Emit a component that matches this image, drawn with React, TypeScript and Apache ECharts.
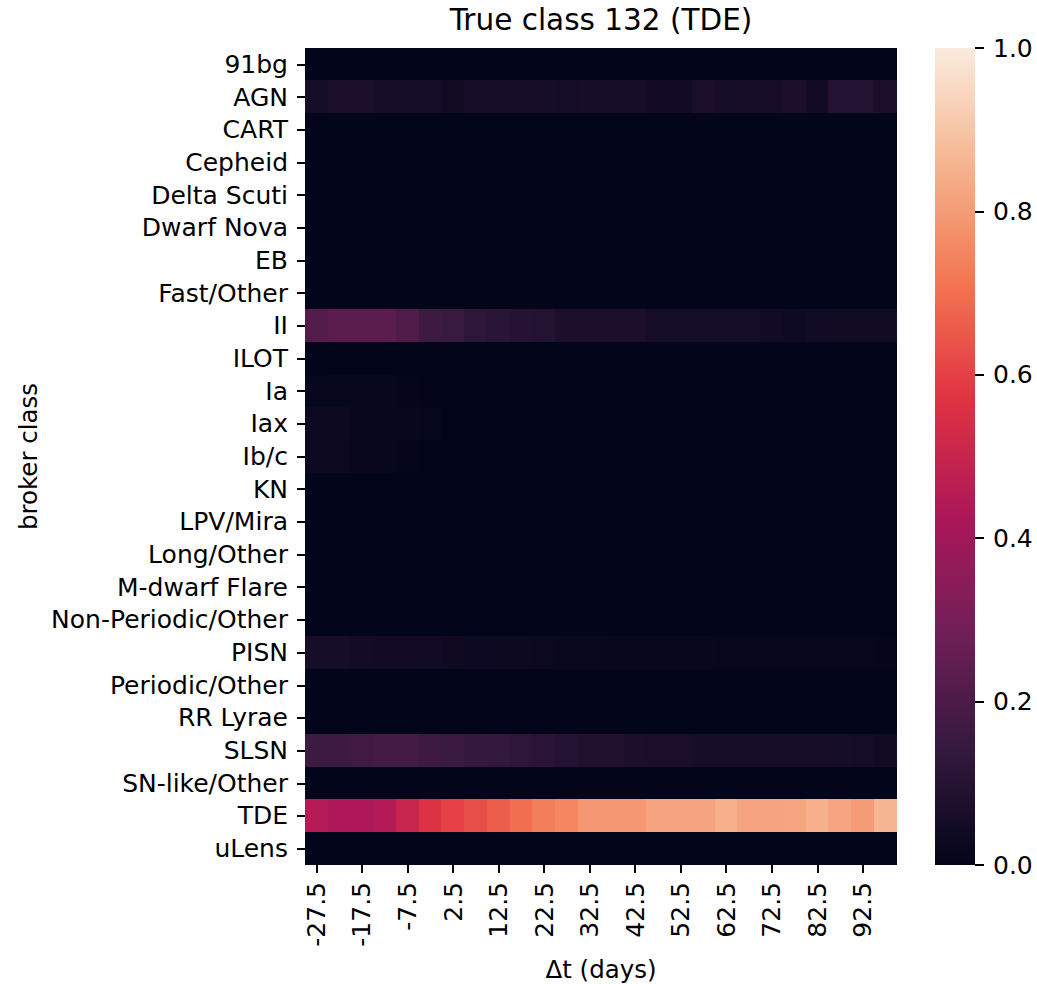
import React, { useEffect, useRef } from "react";
import * as echarts from "echarts";

const classes = [
  "91bg", "AGN", "CART", "Cepheid", "Delta Scuti", "Dwarf Nova", "EB", "Fast/Other",
  "II", "ILOT", "Ia", "Iax", "Ib/c", "KN", "LPV/Mira", "Long/Other", "M-dwarf Flare",
  "Non-Periodic/Other", "PISN", "Periodic/Other", "RR Lyrae", "SLSN", "SN-like/Other",
  "TDE", "uLens",
];

const dtLabels = [
  "-27.5", "-22.5", "-17.5", "-12.5", "-7.5", "-2.5", "2.5", "7.5", "12.5", "17.5",
  "22.5", "27.5", "32.5", "37.5", "42.5", "47.5", "52.5", "57.5", "62.5", "67.5",
  "72.5", "77.5", "82.5", "87.5", "92.5", "97.5",
];

const colorbarTicks = [0, 0.2, 0.4, 0.6, 0.8, 1.0];

const row91bg = [0, 0, 0, 0, 0, 0, 0, 0, 0, 0, 0, 0, 0, 0, 0, 0, 0, 0, 0, 0, 0, 0, 0, 0, 0, 0];
const rowAGN = [0.052, 0.068, 0.07, 0.058, 0.055, 0.055, 0.04, 0.057, 0.06, 0.06, 0.055, 0.052, 0.058, 0.058, 0.06, 0.046, 0.046, 0.065, 0.052, 0.057, 0.057, 0.068, 0.046, 0.095, 0.095, 0.065];
const rowCART = [0, 0, 0, 0, 0, 0, 0, 0, 0, 0, 0, 0, 0, 0, 0, 0, 0, 0, 0, 0, 0, 0, 0, 0, 0, 0];
const rowCepheid = [0, 0, 0, 0, 0, 0, 0, 0, 0, 0, 0, 0, 0, 0, 0, 0, 0, 0, 0, 0, 0, 0, 0, 0, 0, 0];
const rowDeltaScuti = [0, 0, 0, 0, 0, 0, 0, 0, 0, 0, 0, 0, 0, 0, 0, 0, 0, 0, 0, 0, 0, 0, 0, 0, 0, 0];
const rowDwarfNova = [0, 0, 0, 0, 0, 0, 0, 0, 0, 0, 0, 0, 0, 0, 0, 0, 0, 0, 0, 0, 0, 0, 0, 0, 0, 0];
const rowEB = [0, 0, 0, 0, 0, 0, 0, 0, 0, 0, 0, 0, 0, 0, 0, 0, 0, 0, 0, 0, 0, 0, 0, 0, 0, 0];
const rowFastOther = [0, 0, 0, 0, 0, 0, 0, 0, 0, 0, 0, 0, 0, 0, 0, 0, 0, 0, 0, 0, 0, 0, 0, 0, 0, 0];
const rowII = [0.215, 0.235, 0.235, 0.235, 0.205, 0.16, 0.15, 0.12, 0.105, 0.1, 0.09, 0.07, 0.07, 0.068, 0.068, 0.05, 0.05, 0.05, 0.05, 0.05, 0.046, 0.035, 0.042, 0.04, 0.04, 0.04];
const rowILOT = [0, 0, 0, 0, 0, 0, 0, 0, 0, 0, 0, 0, 0, 0, 0, 0, 0, 0, 0, 0, 0, 0, 0, 0, 0, 0];
const rowIa = [0.008, 0.012, 0.012, 0.012, 0.006, 0.003, 0, 0, 0, 0, 0, 0, 0, 0, 0, 0, 0, 0, 0, 0, 0, 0, 0, 0, 0, 0];
const rowIax = [0.027, 0.027, 0.015, 0.015, 0.015, 0.008, 0, 0, 0, 0, 0, 0, 0, 0, 0, 0, 0, 0, 0, 0, 0, 0, 0, 0, 0, 0];
const rowIbc = [0.022, 0.022, 0.015, 0.015, 0.005, 0, 0, 0, 0, 0, 0, 0, 0, 0, 0, 0, 0, 0, 0, 0, 0, 0, 0, 0, 0, 0];
const rowKN = [0, 0, 0, 0, 0, 0, 0, 0, 0, 0, 0, 0, 0, 0, 0, 0, 0, 0, 0, 0, 0, 0, 0, 0, 0, 0];
const rowLPVMira = [0, 0, 0, 0, 0, 0, 0, 0, 0, 0, 0, 0, 0, 0, 0, 0, 0, 0, 0, 0, 0, 0, 0, 0, 0, 0];
const rowLongOther = [0, 0, 0, 0, 0, 0, 0, 0, 0, 0, 0, 0, 0, 0, 0, 0, 0, 0, 0, 0, 0, 0, 0, 0, 0, 0];
const rowMdwarf = [0, 0, 0, 0, 0, 0, 0, 0, 0, 0, 0, 0, 0, 0, 0, 0, 0, 0, 0, 0, 0, 0, 0, 0, 0, 0];
const rowNonPeriodic = [0, 0, 0, 0, 0, 0, 0, 0, 0, 0, 0, 0, 0, 0, 0, 0, 0, 0, 0, 0, 0, 0, 0, 0, 0, 0];
const rowPISN = [0.055, 0.055, 0.048, 0.045, 0.045, 0.042, 0.033, 0.03, 0.025, 0.025, 0.024, 0.02, 0.018, 0.016, 0.016, 0.015, 0.015, 0.012, 0.01, 0.01, 0.01, 0.008, 0.008, 0.01, 0.008, 0.006];
const rowPeriodicOther = [0, 0, 0, 0, 0, 0, 0, 0, 0, 0, 0, 0, 0, 0, 0, 0, 0, 0, 0, 0, 0, 0, 0, 0, 0, 0];
const rowRRLyrae = [0, 0, 0, 0, 0, 0, 0, 0, 0, 0, 0, 0, 0, 0, 0, 0, 0, 0, 0, 0, 0, 0, 0, 0, 0, 0];
const rowSLSN = [0.16, 0.16, 0.17, 0.18, 0.18, 0.165, 0.155, 0.14, 0.135, 0.12, 0.11, 0.095, 0.085, 0.085, 0.07, 0.065, 0.065, 0.06, 0.06, 0.06, 0.06, 0.06, 0.06, 0.055, 0.05, 0.04];
const rowSNlike = [0, 0, 0, 0, 0, 0, 0, 0, 0, 0, 0, 0, 0, 0, 0, 0, 0, 0, 0, 0, 0, 0, 0, 0, 0, 0];
const rowTDE = [0.45, 0.435, 0.435, 0.445, 0.5, 0.56, 0.6, 0.63, 0.66, 0.7, 0.735, 0.75, 0.79, 0.79, 0.79, 0.82, 0.82, 0.82, 0.85, 0.82, 0.82, 0.825, 0.85, 0.825, 0.8, 0.86];
const rowULens = [0, 0, 0, 0, 0, 0, 0, 0, 0, 0, 0, 0, 0, 0, 0, 0, 0, 0, 0, 0, 0, 0, 0, 0, 0, 0];

const rows = [
  row91bg, rowAGN, rowCART, rowCepheid, rowDeltaScuti, rowDwarfNova, rowEB, rowFastOther,
  rowII, rowILOT, rowIa, rowIax, rowIbc, rowKN, rowLPVMira, rowLongOther, rowMdwarf,
  rowNonPeriodic, rowPISN, rowPeriodicOther, rowRRLyrae, rowSLSN, rowSNlike, rowTDE, rowULens,
];

const rocket = ["#03051a", "#35193e", "#701f57", "#ad1759", "#e13342", "#f37651", "#f6b48f", "#faebdd"];

const FONT = "DejaVu Sans";

export default function App() {
  const ref = useRef<HTMLDivElement>(null);
  useEffect(() => {
    document.body.style.margin = "0";
    const chart = echarts.init(ref.current!, null, { renderer: "svg" });
    const data: [number, number, number][] = [];
    rows.forEach((r, yi) => r.forEach((v, xi) => data.push([xi, yi, v])));

    const gx = 305, gy = 48, gw = 592, gh = 817;
    const cbx = 935, cbw = 40;
    const tickStyle = { color: "#000", width: 1.9 };

    chart.setOption({
      animation: false,
      backgroundColor: "#ffffff",
      textStyle: { fontFamily: FONT },
      grid: [
        { left: gx, top: gy, width: gw, height: gh, containLabel: false },
        { left: cbx, top: gy, width: cbw, height: gh, containLabel: false },
      ],
      xAxis: [
        {
          type: "category",
          gridIndex: 0,
          data: dtLabels,
          axisLine: { show: false },
          axisTick: { show: true, alignWithLabel: true, interval: 1, length: 8, lineStyle: tickStyle },
          axisLabel: { interval: 1, rotate: 90, fontSize: 25, color: "#000", margin: 17, fontFamily: FONT },
          splitLine: { show: false },
        },
        { type: "value", gridIndex: 1, show: false, min: 0, max: 1, axisLine: { onZero: false } },
      ],
      yAxis: [
        {
          type: "category",
          gridIndex: 0,
          data: classes,
          inverse: true,
          axisLine: { show: false },
          axisTick: { show: true, alignWithLabel: true, length: 8, lineStyle: tickStyle },
          axisLabel: { fontSize: 25, color: "#000", margin: 17, fontFamily: FONT },
          splitLine: { show: false },
        },
        {
          type: "value",
          gridIndex: 1,
          position: "right",
          min: colorbarTicks[0],
          max: colorbarTicks[colorbarTicks.length - 1],
          interval: 0.2,
          axisLine: { show: false, onZero: false },
          axisTick: { show: true, inside: false, length: 9, lineStyle: tickStyle },
          axisLabel: { fontSize: 25, color: "#000", margin: 18, fontFamily: FONT, formatter: (v: number) => v.toFixed(1) },
          splitLine: { show: false },
        },
      ],
      visualMap: {
        show: false,
        type: "continuous",
        min: 0,
        max: 1,
        dimension: 2,
        seriesIndex: 0,
        inRange: { color: rocket },
      },
      graphic: [
        {
          type: "rect",
          shape: { x: cbx, y: gy, width: cbw, height: gh },
          style: {
            fill: new echarts.graphic.LinearGradient(0, 1, 0, 0, rocket.map((c, i) => ({ offset: i / (rocket.length - 1), color: c }))),
          },
          z: -1,
        },
        {
          type: "text",
          x: gx + gw / 2,
          y: 20,
          style: { text: "True class 132 (TDE)", fontSize: 29.5, fontFamily: FONT, fill: "#000", align: "center", verticalAlign: "middle" },
        },
        {
          type: "text",
          x: gx + gw / 2,
          y: 969,
          style: { text: "Δt (days)", fontSize: 24.5, fontFamily: FONT, fill: "#000", align: "center", verticalAlign: "middle" },
        },
        {
          type: "text",
          x: 28,
          y: gy + gh / 2,
          rotation: Math.PI / 2,
          style: { text: "broker class", fontSize: 24.5, fontFamily: FONT, fill: "#000", align: "center", verticalAlign: "middle" },
        },
      ],
      series: [
        {
          type: "heatmap",
          xAxisIndex: 0,
          yAxisIndex: 0,
          data,
          itemStyle: { borderWidth: 0 },
          emphasis: { disabled: true },
        },
      ],
    });
    return () => chart.dispose();
  }, []);
  return <div ref={ref} style={{ width: 1037, height: 984, shapeRendering: "crispEdges" } as any} />;
}
